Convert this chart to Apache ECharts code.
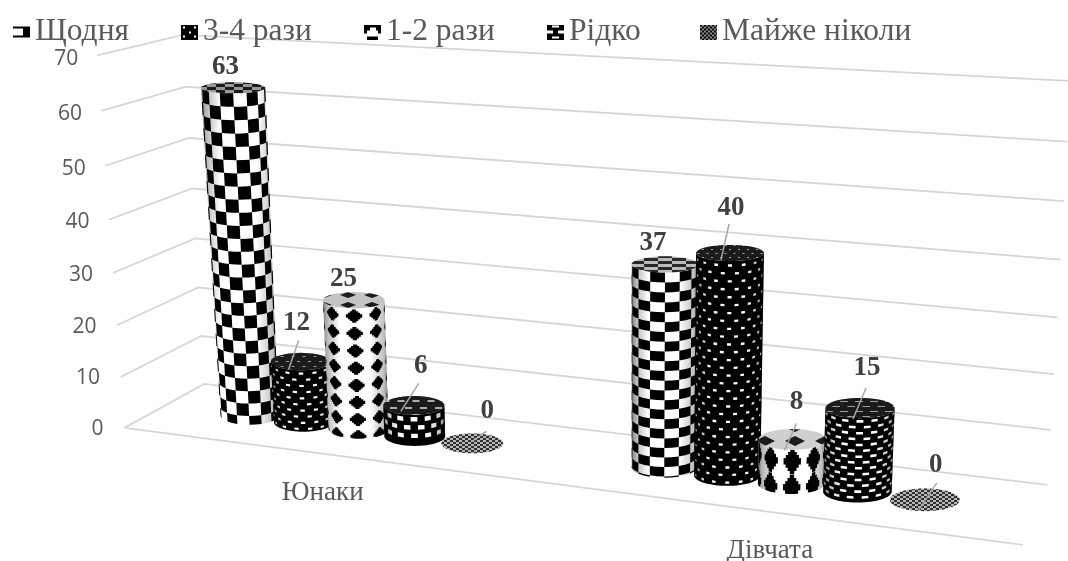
<!DOCTYPE html>
<html lang="uk">
<head>
<meta charset="utf-8">
<title>Частота — юнаки та дівчата</title>
<style>html,body{margin:0;padding:0;background:#fff}#chart{width:1068px;height:561px}</style>
<script src="https://cdn.jsdelivr.net/npm/echarts@6/dist/echarts.min.js"></script>
</head>
<body>
<div id="chart"></div>
<script>
// Chart values
const categories = ['Юнаки', 'Дівчата'];
const seriesNames = ['Щодня', '3-4 рази', '1-2 рази', 'Рідко', 'Майже ніколи'];
const shchodnya = [63, 37];
const triChotyry = [12, 40];
const odynDva = [25, 8];
const ridko = [6, 15];
const mayzheNikoly = [0, 0];
const tickValues = [0, 10, 20, 30, 40, 50, 60, 70];
const seriesValues = [shchodnya, triChotyry, odynDva, ridko, mayzheNikoly];

// Box of the 3D scene: [u along the floor, v into the depth, t up] -> screen point
const ANCHORS = [
  [0, 0, 0, 123, 428], [0, 1, 0, 205, 384], [1, 0, 0, 1023, 545], [1, 1, 0, 1047, 485],
  [0, 0, 1, 99, 55], [0, 1, 1, 179, 35], [1, 1, 1, 1071, 81.5],
  [1, 1, 2 / 7, 1054, 374], [1, 1, 4 / 7, 1061, 259], [0, 0, 3 / 7, 113, 273],
  [0, 1, 2 / 7, 199, 287], [0, 1, 6 / 7, 188, 87]
];

function solveProjection(points) {
  const n = 11, A = [], b = [];
  for (let i = 0; i < n; i++) { A.push(new Array(n).fill(0)); b.push(0); }
  const add = (row, rhs) => {
    for (let i = 0; i < n; i++) {
      for (let j = 0; j < n; j++) A[i][j] += row[i] * row[j];
      b[i] += row[i] * rhs;
    }
  };
  points.forEach(([u, v, t, x, y]) => {
    add([u, v, t, 1, 0, 0, 0, 0, -x * u, -x * v, -x * t], x);
    add([0, 0, 0, 0, u, v, t, 1, -y * u, -y * v, -y * t], y);
  });
  for (let c = 0; c < n; c++) {
    let p = c;
    for (let r = c + 1; r < n; r++) if (Math.abs(A[r][c]) > Math.abs(A[p][c])) p = r;
    [A[c], A[p]] = [A[p], A[c]];
    [b[c], b[p]] = [b[p], b[c]];
    for (let r = c + 1; r < n; r++) {
      const f = A[r][c] / A[c][c];
      for (let k = c; k < n; k++) A[r][k] -= f * A[c][k];
      b[r] -= f * b[c];
    }
  }
  const m = new Array(n).fill(0);
  for (let r = n - 1; r >= 0; r--) {
    let s = b[r];
    for (let k = r + 1; k < n; k++) s -= A[r][k] * m[k];
    m[r] = s / A[r][r];
  }
  return m;
}
const M = solveProjection(ANCHORS);
function project(u, v, t) {
  const w = M[8] * u + M[9] * v + M[10] * t + 1;
  return [(M[0] * u + M[1] * v + M[2] * t + M[3]) / w, (M[4] * u + M[5] * v + M[6] * t + M[7]) / w];
}

// The value and category axes span a flat frame; its fractions feed the projection
const GRID = { left: 100, top: 50, width: 800, height: 400 };
const fracU = x => (x - GRID.left) / GRID.width;
const fracT = y => (GRID.top + GRID.height - y) / GRID.height;

// Cylinder placement on the floor
const SLOT = 0.0695, DEPTH = 0.5, RADIUS_U = 0.0345, RADIUS_V = 0.2;

// A cylinder cross-section is drawn as an upright ellipse around its projected centre;
// tall cylinders near the left wall flare towards the camera
function circlePoint(cu, t, theta) {
  const centre = project(cu, DEPTH, t);
  const flare = t * Math.pow(1 - cu, 4);
  const rx = 0.8 * (project(cu + RADIUS_U, DEPTH, t)[0] - project(cu - RADIUS_U, DEPTH, t)[0]) / 2 + 7.8 + 4 * flare;
  const ry = 0.85 * (project(cu, DEPTH - RADIUS_V, t)[1] - project(cu, DEPTH + RADIUS_V, t)[1]) / 2 + 1.5;
  return [centre[0] + 3 * flare + rx * Math.cos(theta), centre[1] + ry * Math.sin(theta)];
}

// Wrap textures per series and category: dA angle step, dV value step, w/h motif half-width and height
const TEXTURES = [
  [{ kind: 'checker', dA: 0.43, dV: 2.45 }, { kind: 'checker', dA: 0.46, dV: 1.75 }],
  [{ kind: 'blocks', dA: 0.47, dV: 1.2, w: 0.075, h: 0.42 }, { kind: 'blocks', dA: 0.42, dV: 1.38, w: 0.06, h: 0.42 }],
  [{ kind: 'diamond', dA: 0.8, dV: 3.3, w: 0.27, h: 1.25 }, { kind: 'diamond', dA: 0.7, dV: 4.7, w: 0.26, h: 2.3 }],
  [{ kind: 'blocks', dA: 0.47, dV: 1.6, w: 0.11, h: 0.85 }, { kind: 'blocks', dA: 0.44, dV: 1.04, w: 0.1, h: 0.45 }],
  [null, null]
];

// Top-face tiles, per series and category
const TOP_TILES = [
  [{ kind: 'checker', cw: 9, ch: 3, a: '#000', b: '#9a9a9a' }, { kind: 'checker', cw: 14, ch: 3, a: '#111', b: '#c4c4c4' }],
  [{ kind: 'dots', px: 11, py: 5, w: 3, h: 1, bg: '#000', fg: '#9a9a9a' }, { kind: 'dots', px: 9, py: 4, w: 2, h: 1, bg: '#000', fg: '#a8a8a8' }],
  [{ kind: 'diam', px: 24, py: 10, w: 8, h: 3, bg: '#cfcfcf', fg: '#000' }, { kind: 'diam', px: 30, py: 14, w: 10, h: 5, bg: '#dcdcdc', fg: '#000' }],
  [{ kind: 'dots', px: 15, py: 7, w: 7, h: 2, bg: '#000', fg: '#b0b0b0' }, { kind: 'dots', px: 15, py: 5, w: 8, h: 1, bg: '#000', fg: '#a0a0a0' }],
  [{ kind: 'checker', cw: 3, ch: 2, a: '#1a1a1a', b: '#bdbdbd' }, { kind: 'checker', cw: 3, ch: 2, a: '#1a1a1a', b: '#bdbdbd' }]
];

function makeTile(spec) {
  const c = document.createElement('canvas');
  const g = c.getContext('2d');
  if (spec.kind === 'checker') {
    c.width = spec.cw * 2; c.height = spec.ch * 2;
    g.fillStyle = spec.b; g.fillRect(0, 0, c.width, c.height);
    g.fillStyle = spec.a;
    g.fillRect(0, 0, spec.cw, spec.ch);
    g.fillRect(spec.cw, spec.ch, spec.cw, spec.ch);
  } else if (spec.kind === 'dots') {
    c.width = spec.px; c.height = spec.py * 2;
    g.fillStyle = spec.bg; g.fillRect(0, 0, c.width, c.height);
    g.fillStyle = spec.fg;
    g.fillRect(0, 1, spec.w, spec.h);
    g.fillRect(spec.px / 2, spec.py + 1, spec.w, spec.h);
  } else {
    c.width = spec.px; c.height = spec.py;
    g.fillStyle = spec.bg; g.fillRect(0, 0, c.width, c.height);
    g.fillStyle = spec.fg;
    const mx = spec.px / 2, my = spec.py / 2;
    g.beginPath();
    g.moveTo(mx - spec.w, my); g.lineTo(mx, my - spec.h); g.lineTo(mx + spec.w, my); g.lineTo(mx, my + spec.h);
    g.closePath(); g.fill();
  }
  return c;
}
const topPatterns = TOP_TILES.map(row => row.map(spec => ({ image: makeTile(spec), repeat: 'repeat' })));

// Small legend swatches
function swatch(draw) {
  const c = document.createElement('canvas');
  c.width = 17; c.height = 15;
  const g = c.getContext('2d');
  g.fillStyle = '#fff'; g.fillRect(0, 0, 17, 15);
  g.fillStyle = '#000';
  draw(g);
  return 'image://' + c.toDataURL();
}
const legendIcons = [
  swatch(g => { g.fillRect(0, 2, 11, 2); g.fillRect(0, 11, 11, 2); g.fillRect(10, 2, 7, 11); }),
  swatch(g => {
    g.fillRect(0, 0, 17, 15); g.fillStyle = '#fff';
    [[2, 2], [13, 2], [2, 11], [13, 11], [8, 7]].forEach(([x, y]) => g.fillRect(x, y, 2, 2));
  }),
  swatch(g => {
    g.fillRect(0, 0, 17, 15); g.fillStyle = '#fff';
    g.fillRect(6, 3, 6, 3); g.fillRect(3, 6, 11, 6); g.fillRect(0, 9, 3, 6); g.fillRect(14, 9, 3, 6);
  }),
  swatch(g => {
    g.fillRect(0, 0, 17, 15); g.fillStyle = '#fff';
    g.fillRect(5, 1, 7, 2); g.fillRect(0, 6, 6, 3); g.fillRect(11, 6, 6, 3); g.fillRect(5, 12, 7, 2);
  }),
  swatch(g => {
    for (let y = 0; y < 15; y += 2) for (let x = 0; x < 17; x += 2) {
      g.fillStyle = (x + y) % 4 === 0 ? '#000' : '#8a8a8a';
      g.fillRect(x, y, 2, 2);
    }
  })
];

// Stepped lozenge outline, unit half-size
const LOZENGE = (() => {
  const right = [[0.25, -1], [0.25, -0.75], [0.5, -0.75], [0.5, -0.5], [0.75, -0.5], [0.75, -0.25], [1, -0.25],
    [1, 0.25], [0.75, 0.25], [0.75, 0.5], [0.5, 0.5], [0.5, 0.75], [0.25, 0.75], [0.25, 1]];
  const left = right.map(([x, y]) => [-x, y]).reverse();
  return right.concat(left);
})();

// Motifs of a texture as polygons in (angle, value) space, front half of the cylinder only
function motifs(tex, value) {
  const out = [];
  const mid = Math.PI / 2;
  if (tex.kind === 'checker') {
    const rows = Math.ceil(value / tex.dV);
    const half = Math.ceil(mid / tex.dA);
    for (let r = 0; r < rows; r++) {
      for (let i = -half; i < half; i++) {
        if ((r + i + 200) % 2) continue;
        const a0 = mid + i * tex.dA, a1 = a0 + tex.dA;
        const v0 = value - (r + 1) * tex.dV, v1 = value - r * tex.dV;
        out.push([[a0, v0], [(a0 + a1) / 2, v0], [a1, v0], [a1, v1], [(a0 + a1) / 2, v1], [a0, v1]]);
      }
    }
  } else if (tex.kind === 'blocks') {
    const rows = Math.ceil(value / tex.dV);
    const half = Math.ceil(mid / tex.dA) + 1;
    for (let r = 0; r < rows; r++) {
      const shift = r % 2 ? tex.dA / 2 : 0;
      for (let i = -half; i <= half; i++) {
        const a = mid + i * tex.dA + shift;
        const v = value - (r + 0.55) * tex.dV;
        if (a - tex.w < 0.08 || a + tex.w > Math.PI - 0.08 || v - tex.h / 2 < 0.15) continue;
        out.push([[a - tex.w, v - tex.h / 2], [a + tex.w, v - tex.h / 2], [a + tex.w, v + tex.h / 2], [a - tex.w, v + tex.h / 2]]);
      }
    }
  } else {
    const rows = Math.ceil(value / tex.dV) + 1;
    const half = Math.ceil(mid / tex.dA) + 1;
    for (let r = 0; r < rows; r++) {
      for (let i = -half; i <= half; i++) {
        const a = mid + i * tex.dA, v = value - (r + 0.45) * tex.dV;
        out.push(LOZENGE.map(([dx, dy]) => [a + dx * tex.w, v + dy * tex.h]));
      }
    }
  }
  return out;
}

const arc = (cu, t, from, to, steps) => {
  const pts = [];
  for (let i = 0; i <= steps; i++) pts.push(circlePoint(cu, t, from + (to - from) * i / steps));
  return pts;
};

const edgeShade = {
  type: 'linear', x: 0, y: 0, x2: 1, y2: 0,
  colorStops: [
    { offset: 0, color: 'rgba(0,0,0,0.5)' }, { offset: 0.07, color: 'rgba(0,0,0,0.28)' },
    { offset: 0.25, color: 'rgba(0,0,0,0)' }, { offset: 0.72, color: 'rgba(0,0,0,0)' },
    { offset: 0.93, color: 'rgba(0,0,0,0.25)' }, { offset: 1, color: 'rgba(0,0,0,0.5)' }
  ]
};

// Label placement relative to each cylinder's top centre, and optional leader line
const LABEL_OFFSETS = [
  [[-6, -21], [-12, -21]],
  [[-4, -39], [1, -45]],
  [[-10, -21], [4, -37]],
  [[7, -39], [7, -40]],
  [[15, -32], [11, -35]]
];
const LEADERS = [
  [null, null],
  [[-2, -21, -12, 8], [-1, -29, -9, 7]],
  [null, [4, -16, -8, 11]],
  [[5, -22, -13, 6], [6, -20, -7, 11]],
  [[14, -12, 0, -2], [12, -17, -6, 10]]
];

function cylinderRenderer(s) {
  return function (params, api) {
    const c = api.value(0), value = api.value(1);
    const base = api.coord([c, 0]), top = api.coord([c, value]);
    const cu = fracU(base[0]) + (s - 2) * SLOT;
    const t0 = fracT(base[1]), t1 = fracT(top[1]);
    const perValue = value > 0 ? (t1 - t0) / value : 0;
    const children = [];
    const polygon = (points, style, z2) => ({ type: 'polygon', shape: { points }, style, z2: z2 || 0, silent: true });
    const topCentre = project(cu, DEPTH, t1);

    if (value > 0) {
      const tex = TEXTURES[s][c];
      const body = arc(cu, t0, Math.PI, 0, 32).concat(arc(cu, t1, 0, Math.PI, 32));
      children.push(polygon(body, { fill: tex.kind === 'blocks' ? '#000' : '#fff' }, 1));
      const ink = tex.kind === 'blocks' ? '#fff' : '#000';
      motifs(tex, value).forEach(poly => {
        const pts = poly.map(([a, v]) => {
          const ca = Math.min(Math.PI, Math.max(0, a));
          const cv = Math.min(value, Math.max(0, v));
          return circlePoint(cu, t0 + cv * perValue, ca);
        });
        children.push(polygon(pts, { fill: ink }, 2));
      });
      children.push(polygon(body, { fill: edgeShade }, 3));
    }
    const face = arc(cu, t1, 0, Math.PI * 2, 48);
    children.push(polygon(face, { fill: topPatterns[s][c] }, 4));
    children.push(polygon(face, { fill: 'rgba(150,150,150,0.18)' }, 4));

    const off = LABEL_OFFSETS[s][c], lead = LEADERS[s][c];
    if (lead) {
      children.push({
        type: 'line', silent: true, z2: 50,
        shape: { x1: topCentre[0] + lead[0], y1: topCentre[1] + lead[1], x2: topCentre[0] + lead[2], y2: topCentre[1] + lead[3] },
        style: { stroke: '#a6a6a6', lineWidth: 1.5 }
      });
    }
    children.push({
      type: 'text', silent: true, z2: 60,
      x: topCentre[0] + off[0], y: topCentre[1] + off[1],
      style: {
        text: String(value), fill: '#404040', align: 'center', verticalAlign: 'middle',
        font: 'bold 27px "Liberation Serif"'
      }
    });
    return { type: 'group', children };
  };
}

// Walls, floor and tick labels of the scene
function frameRenderer(params, api) {
  const tick = api.value(0);
  const t = fracT(api.coord([0, tick])[1]);
  const a = project(0, 0, t), b = project(0, 1, t), d = project(1, 1, t);
  const children = [{
    type: 'polyline', silent: true, shape: { points: [a, b, d] },
    style: { stroke: '#d6d6d6', lineWidth: 1.8, fill: null }
  }, {
    type: 'text', silent: true, x: a[0] - 21 + 2 * t, y: a[1] + 1 + 2.5 * t,
    style: { text: String(tick), fill: '#595959', align: 'right', verticalAlign: 'middle', font: '21px "Open Sans"' }
  }];
  if (tick === 0) {
    children.push({
      type: 'line', silent: true,
      shape: { x1: a[0], y1: a[1], x2: project(1, 0, 0)[0], y2: project(1, 0, 0)[1] },
      style: { stroke: '#d6d6d6', lineWidth: 1.8 }
    });
  }
  return { type: 'group', children };
}

function categoryRenderer(params, api) {
  const c = api.value(0);
  const p = project(fracU(api.coord([c, 0])[0]), 0, 0);
  return {
    type: 'text', silent: true, x: p[0], y: p[1] + 39,
    style: { text: categories[c], fill: '#595959', align: 'center', verticalAlign: 'middle', font: '27px "Liberation Serif"' }
  };
}

// One single-entry legend per series, each with its own left edge
const LEGEND_LEFT = [13, 181, 364, 547, 700];

const chart = echarts.init(document.getElementById('chart'), null, { renderer: 'canvas' });
chart.setOption({
  animation: false,
  backgroundColor: '#ffffff',
  grid: GRID,
  xAxis: { type: 'category', data: categories, show: false },
  yAxis: { type: 'value', min: 0, max: 70, interval: 10, show: false },
  legend: seriesNames.map((name, i) => ({
    left: LEGEND_LEFT[i], top: 16, padding: 0, itemWidth: 17, itemHeight: 15,
    selectedMode: false,
    textStyle: { fontFamily: 'Liberation Serif', fontSize: 31.5, color: '#595959' },
    data: [{ name, icon: legendIcons[i] }]
  })),
  series: [
    { type: 'custom', name: 'frame', z: 1, silent: true, data: tickValues.map(v => [v]), renderItem: frameRenderer, encode: { y: 0 } },
    { type: 'custom', name: 'categories', z: 1, silent: true, data: categories.map((_, i) => [i]), renderItem: categoryRenderer, encode: { x: 0 } }
  ].concat(seriesNames.map((name, s) => ({
    type: 'custom', name, z: 2 + s, silent: true,
    data: seriesValues[s].map((v, c) => [c, v]),
    renderItem: cylinderRenderer(s),
    encode: { x: 0, y: 1 }
  })))
});
</script>
</body>
</html>
